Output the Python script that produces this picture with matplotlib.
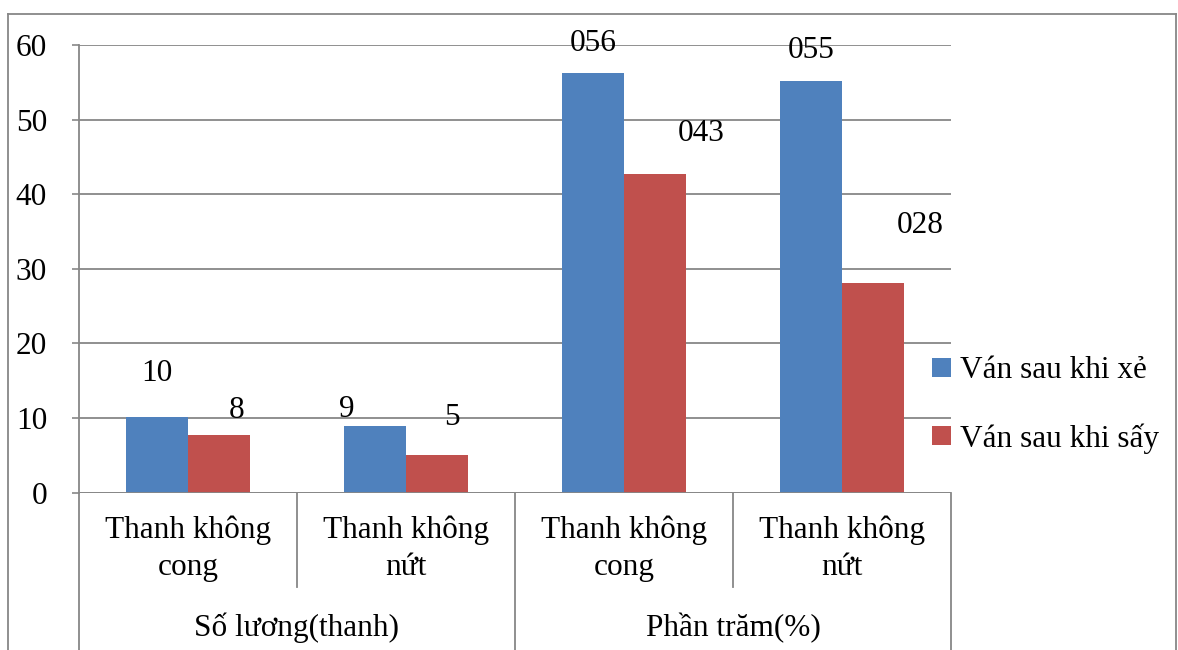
import matplotlib
matplotlib.use("Agg")
import matplotlib.pyplot as plt
from matplotlib.lines import Line2D
from matplotlib.patches import Patch

plt.rcParams['font.family'] = ['Liberation Serif', 'DejaVu Serif']

# ---- data ----
categories = ["Thanh không\ncong", "Thanh không\nnứt", "Thanh không\ncong", "Thanh không\nnứt"]
groups = ["Số lương(thanh)", "Phần trăm(%)"]
series_names = ["Ván sau khi xẻ", "Ván sau khi sấy"]
after_sawing = [10.1, 8.9, 56.3, 55.2]
after_drying = [7.7, 5.05, 42.7, 28.15]
label_sawing = ["10", "9", "056", "055"]
label_drying = ["8", "5", "043", "028"]
yticks = [0, 10, 20, 30, 40, 50, 60]

# label offsets (pixels) relative to bar top centre - style only
off_sawing = [(0, 44), (-28, 17), (0, 29), (0, 30)]
off_drying = [(17, 25), (15, 38), (46, 41), (47, 57)]

blue = "#4F81BD"
red = "#C0504D"
grey = "#878787"
FS = 22.5

W, H = 1178, 650
fig = plt.figure(figsize=(W / 100, H / 100), dpi=100)
ax_l, ax_r, ax_t, ax_b = 79, 951, 45, 492.7
ax = fig.add_axes([ax_l / W, (H - ax_b) / H, (ax_r - ax_l) / W, (ax_b - ax_t) / H])

x = list(range(len(categories)))
bw = 2 / 7
b1 = ax.bar([i - bw / 2 for i in x], after_sawing, width=bw, color=blue, label=series_names[0], zorder=3)
b2 = ax.bar([i + bw / 2 for i in x], after_drying, width=bw, color=red, label=series_names[1], zorder=3)

ax.set_xlim(-0.5, 3.5)
ax.set_ylim(0, 60)
ax.set_yticks(yticks)
ax.set_yticklabels([str(t) for t in yticks], fontsize=FS)
ax.tick_params(axis='y', direction='out', length=5, width=1.2, color=grey, pad=18)
ax.set_xticks([])
ax.grid(axis='y', color=grey, linewidth=1.3, zorder=0)
for s in ['top', 'right', 'bottom']:
    ax.spines[s].set_visible(False)
ax.spines['left'].set_color(grey)
ax.spines['left'].set_linewidth(1.3)
ax.axhline(0, color=grey, linewidth=1.3, zorder=4)

px_to_pt = 72 / 100
for bars, labels, offs in [(b1, label_sawing, off_sawing), (b2, label_drying, off_drying)]:
    for rect, lab, (dx, dy) in zip(bars, labels, offs):
        ax.annotate(lab, (rect.get_x() + rect.get_width() / 2, rect.get_height()),
                    xytext=(dx * px_to_pt, dy * px_to_pt), textcoords='offset points',
                    ha='center', va='center', fontsize=FS, zorder=5)

# multi-level category axis
tr = ax.get_xaxis_transform()
hgt = ax_b - ax_t
def yf(ypix):
    return (ax_b - ypix) / hgt

for i, c in enumerate(categories):
    ax.text(i, yf(549), c, transform=tr, ha='center', va='center', fontsize=FS,
            linespacing=1.35, clip_on=False)
for g, name in enumerate(groups):
    ax.text(2 * g + 0.5, yf(628), name, transform=tr, ha='center', va='center',
            fontsize=FS, clip_on=False)
for xs, bottom in [(-0.5, 660), (0.5, 587), (1.5, 660), (2.5, 587), (3.5, 660)]:
    ax.add_line(Line2D([xs, xs], [0, yf(bottom)], transform=tr, color=grey,
                       linewidth=1.3, clip_on=False))

# legend
handles = [Patch(facecolor=blue), Patch(facecolor=red)]
fig.legend(handles, series_names, loc='center left', bbox_to_anchor=(932 / W, (H - 405) / H),
           frameon=False, fontsize=FS, handlelength=0.6, handleheight=0.6,
           handletextpad=0.3, labelspacing=1.2, borderpad=0, borderaxespad=0)

# outer chart border
fig.add_artist(Line2D([8 / W, 8 / W], [-0.05, (H - 14) / H], transform=fig.transFigure, color=grey, linewidth=1.3))
fig.add_artist(Line2D([8 / W, 1176 / W], [(H - 14) / H, (H - 14) / H], transform=fig.transFigure, color=grey, linewidth=1.3))
fig.add_artist(Line2D([1176 / W, 1176 / W], [-0.05, (H - 14) / H], transform=fig.transFigure, color=grey, linewidth=1.3))

fig.savefig("out.png", dpi=100)
